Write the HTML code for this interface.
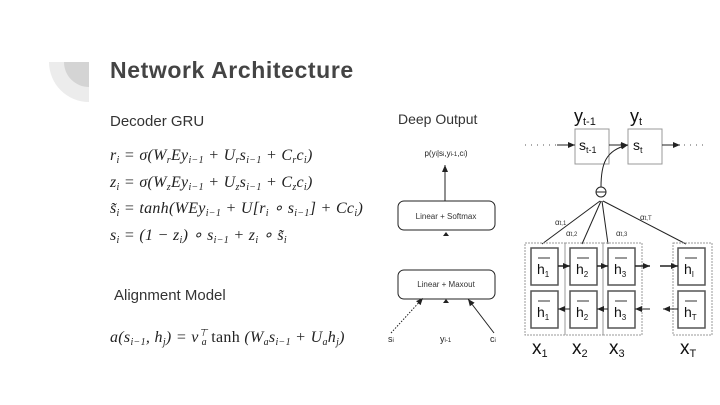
<!DOCTYPE html>
<html><head><meta charset="utf-8"><style>
html,body{margin:0;padding:0;background:#fff}
svg{display:block}
.s{font-family:"Liberation Sans",sans-serif}
.m{font-family:"Liberation Serif",serif;font-style:italic;font-size:16px;fill:#222;letter-spacing:0.3px}
</style></head><body>
<svg width="720" height="405" viewBox="0 0 720 405" xmlns="http://www.w3.org/2000/svg">
<defs><marker id="a" markerUnits="userSpaceOnUse" markerWidth="8" markerHeight="8" refX="7" refY="4" orient="auto"><path d="M0,1 L7,4 L0,7z" fill="#222"/></marker></defs>
<path d="M89,62 L49,62 A40,40 0 0 0 89,102 Z" fill="#ececec"/>
<path d="M89,62 L64,62 A25,25 0 0 0 89,87 Z" fill="#d4d4d4"/>
<text x="110" y="78" class="s" font-size="23" font-weight="bold" fill="#444" letter-spacing="0.6">Network Architecture</text>
<text x="110" y="126" class="s" font-size="15" fill="#333">Decoder GRU</text>
<text x="110" y="160" class="m">r<tspan font-size="10" dy="3">i</tspan><tspan dy="-3"> = σ(W</tspan><tspan font-size="10" dy="3">r</tspan><tspan dy="-3">Ey</tspan><tspan font-size="10" dy="3">i−1</tspan><tspan dy="-3"> + U</tspan><tspan font-size="10" dy="3">r</tspan><tspan dy="-3">s</tspan><tspan font-size="10" dy="3">i−1</tspan><tspan dy="-3"> + C</tspan><tspan font-size="10" dy="3">r</tspan><tspan dy="-3">c</tspan><tspan font-size="10" dy="3">i</tspan><tspan dy="-3">)</tspan></text>
<text x="110" y="187" class="m">z<tspan font-size="10" dy="3">i</tspan><tspan dy="-3"> = σ(W</tspan><tspan font-size="10" dy="3">z</tspan><tspan dy="-3">Ey</tspan><tspan font-size="10" dy="3">i−1</tspan><tspan dy="-3"> + U</tspan><tspan font-size="10" dy="3">z</tspan><tspan dy="-3">s</tspan><tspan font-size="10" dy="3">i−1</tspan><tspan dy="-3"> + C</tspan><tspan font-size="10" dy="3">z</tspan><tspan dy="-3">c</tspan><tspan font-size="10" dy="3">i</tspan><tspan dy="-3">)</tspan></text>
<text x="110" y="213" class="m">s̃<tspan font-size="10" dy="3">i</tspan><tspan dy="-3"> = tanh(WEy</tspan><tspan font-size="10" dy="3">i−1</tspan><tspan dy="-3"> + U[r</tspan><tspan font-size="10" dy="3">i</tspan><tspan dy="-3"> ∘ s</tspan><tspan font-size="10" dy="3">i−1</tspan><tspan dy="-3">] + Cc</tspan><tspan font-size="10" dy="3">i</tspan><tspan dy="-3">)</tspan></text>
<text x="110" y="240" class="m">s<tspan font-size="10" dy="3">i</tspan><tspan dy="-3"> = (1 − z</tspan><tspan font-size="10" dy="3">i</tspan><tspan dy="-3">) ∘ s</tspan><tspan font-size="10" dy="3">i−1</tspan><tspan dy="-3"> + z</tspan><tspan font-size="10" dy="3">i</tspan><tspan dy="-3"> ∘ s̃</tspan><tspan font-size="10" dy="3">i</tspan></text>
<text x="114" y="300" class="s" font-size="15" fill="#333">Alignment Model</text>
<text x="110" y="342" class="m">a(s<tspan font-size="10" dy="3">i−1</tspan><tspan dy="-3">, h</tspan><tspan font-size="10" dy="3">j</tspan><tspan dy="-3">) = v</tspan><tspan font-size="10" dy="-6">⊤</tspan><tspan font-size="10" dx="-6" dy="9">a</tspan><tspan dy="-3" font-style="normal"> tanh </tspan><tspan dy="0">(W</tspan><tspan font-size="10" dy="3">a</tspan><tspan dy="-3">s</tspan><tspan font-size="10" dy="3">i−1</tspan><tspan dy="-3"> + U</tspan><tspan font-size="10" dy="3">a</tspan><tspan dy="-3">h</tspan><tspan font-size="10" dy="3">j</tspan><tspan dy="-3">)</tspan></text>
<!-- Deep output -->
<text x="398" y="124" class="s" font-size="14" fill="#333">Deep Output</text>
<text x="446" y="156" class="s" font-size="8" text-anchor="middle" fill="#222">p(y<tspan font-size="6">i</tspan>|s<tspan font-size="6">i</tspan>,y<tspan font-size="6">i-1</tspan>,c<tspan font-size="6">i</tspan>)</text>
<line x1="445" y1="201" x2="445" y2="165" stroke="#222" marker-end="url(#a)"/>
<rect x="398" y="201" width="97" height="29" rx="6" fill="#fff" stroke="#222"/>
<text x="446" y="219" class="s" font-size="8" text-anchor="middle" fill="#333">Linear + Softmax</text>
<path d="M443,236 L446,232 L449,236z" fill="#222"/>
<rect x="398" y="270" width="97" height="29" rx="6" fill="#fff" stroke="#222"/>
<text x="446" y="287" class="s" font-size="8" text-anchor="middle" fill="#333">Linear + Maxout</text>
<path d="M443,303 L446,299 L449,303z" fill="#222"/>
<line x1="391" y1="333" x2="423" y2="298" stroke="#222" stroke-dasharray="1.5,1.5" marker-end="url(#a)"/>
<line x1="494" y1="333" x2="468" y2="299" stroke="#222" marker-end="url(#a)"/>
<text x="388" y="342" class="s" font-size="9" fill="#222">s<tspan font-size="6">i</tspan></text>
<text x="440" y="342" class="s" font-size="9" fill="#222">y<tspan font-size="6">i-1</tspan></text>
<text x="490" y="342" class="s" font-size="9" fill="#222">c<tspan font-size="6">i</tspan></text>
<!-- attention diagram -->
<text x="574" y="122" class="s" font-size="18" fill="#111">y<tspan font-size="11" dy="3">t-1</tspan></text>
<text x="630" y="122" class="s" font-size="18" fill="#111">y<tspan font-size="11" dy="3">t</tspan></text>
<rect x="575" y="129" width="34" height="35" fill="#fff" stroke="#999"/>
<rect x="628" y="129" width="34" height="35" fill="#fff" stroke="#999"/>
<text x="579" y="150" class="s" font-size="14" fill="#111">s<tspan font-size="9" dy="3">t-1</tspan></text>
<text x="633" y="150" class="s" font-size="14" fill="#111">s<tspan font-size="9" dy="3">t</tspan></text>
<line x1="525" y1="145" x2="560" y2="145" stroke="#555" stroke-dasharray="1,5"/>
<line x1="557" y1="145" x2="575" y2="145" stroke="#222" marker-end="url(#a)"/>
<line x1="609" y1="145" x2="628" y2="145" stroke="#222" marker-end="url(#a)"/>
<line x1="662" y1="145" x2="680" y2="145" stroke="#222" marker-end="url(#a)"/>
<line x1="684" y1="145" x2="705" y2="145" stroke="#555" stroke-dasharray="1,5"/>
<path d="M601,187 C601,165 605,150 628,145" fill="none" stroke="#222" marker-end="url(#a)"/>
<circle cx="601" cy="192" r="5" fill="#fff" stroke="#222"/>
<line x1="596" y1="192" x2="606" y2="192" stroke="#222"/>
<g stroke="#222">
<line x1="542" y1="244" x2="600" y2="201"/>
<line x1="582" y1="244" x2="601" y2="201"/>
<line x1="608" y1="244" x2="602" y2="201"/>
<line x1="686" y1="244" x2="603" y2="201"/>
</g>
<text x="555" y="225" class="s" font-size="8" fill="#333">α<tspan font-size="6">t,1</tspan></text>
<text x="566" y="236" class="s" font-size="8" fill="#333">α<tspan font-size="6">t,2</tspan></text>
<text x="616" y="236" class="s" font-size="8" fill="#333">α<tspan font-size="6">t,3</tspan></text>
<text x="640" y="220" class="s" font-size="8" fill="#333">α<tspan font-size="6">t,T</tspan></text>
<g fill="none" stroke="#999" stroke-dasharray="2,1">
<rect x="525" y="243" width="40" height="92"/><rect x="565" y="243" width="38" height="92"/>
<rect x="603" y="243" width="39" height="92"/><rect x="673" y="243" width="39" height="92"/>
</g>
<g fill="#fff" stroke="#555" stroke-width="1.5">
<rect x="531" y="248" width="27" height="37"/><rect x="570" y="248" width="27" height="37"/><rect x="608" y="248" width="27" height="37"/><rect x="678" y="248" width="27" height="37"/>
<rect x="531" y="291" width="27" height="37"/><rect x="570" y="291" width="27" height="37"/><rect x="608" y="291" width="27" height="37"/><rect x="678" y="291" width="27" height="37"/>
</g>
<g class="s" font-size="14" fill="#111">
<text x="537" y="274">h<tspan font-size="8" dy="3">1</tspan></text><text x="576" y="274">h<tspan font-size="8" dy="3">2</tspan></text><text x="614" y="274">h<tspan font-size="8" dy="3">3</tspan></text><text x="684" y="274">h<tspan font-size="8" dy="3">I</tspan></text>
<text x="537" y="317">h<tspan font-size="8" dy="3">1</tspan></text><text x="576" y="317">h<tspan font-size="8" dy="3">2</tspan></text><text x="614" y="317">h<tspan font-size="8" dy="3">3</tspan></text><text x="684" y="317">h<tspan font-size="8" dy="3">T</tspan></text>
</g>
<g stroke="#333">
<line x1="538" y1="258" x2="550" y2="258"/><line x1="577" y1="258" x2="589" y2="258"/><line x1="615" y1="258" x2="627" y2="258"/><line x1="685" y1="258" x2="697" y2="258"/>
<line x1="538" y1="301" x2="550" y2="301"/><line x1="577" y1="301" x2="589" y2="301"/><line x1="615" y1="301" x2="627" y2="301"/><line x1="685" y1="301" x2="697" y2="301"/>
</g>
<g stroke="#222" stroke-width="1.5">
<line x1="558" y1="266" x2="570" y2="266" marker-end="url(#a)"/><line x1="597" y1="266" x2="608" y2="266" marker-end="url(#a)"/>
<line x1="635" y1="266" x2="650" y2="266" marker-end="url(#a)"/><line x1="660" y1="266" x2="678" y2="266" marker-end="url(#a)"/>
</g>
<g stroke="#222" stroke-width="1">
<line x1="570" y1="309" x2="558" y2="309" marker-end="url(#a)"/><line x1="608" y1="309" x2="597" y2="309" marker-end="url(#a)"/>
<line x1="650" y1="309" x2="635" y2="309" marker-end="url(#a)"/><line x1="678" y1="309" x2="663" y2="309" marker-end="url(#a)"/>
</g>
<g class="s" font-size="19" fill="#111">
<text x="532" y="354">x<tspan font-size="11" dy="3">1</tspan></text><text x="572" y="354">x<tspan font-size="11" dy="3">2</tspan></text><text x="609" y="354">x<tspan font-size="11" dy="3">3</tspan></text><text x="680" y="354">x<tspan font-size="11" dy="3">T</tspan></text>
</g>
</svg>
</body></html>
